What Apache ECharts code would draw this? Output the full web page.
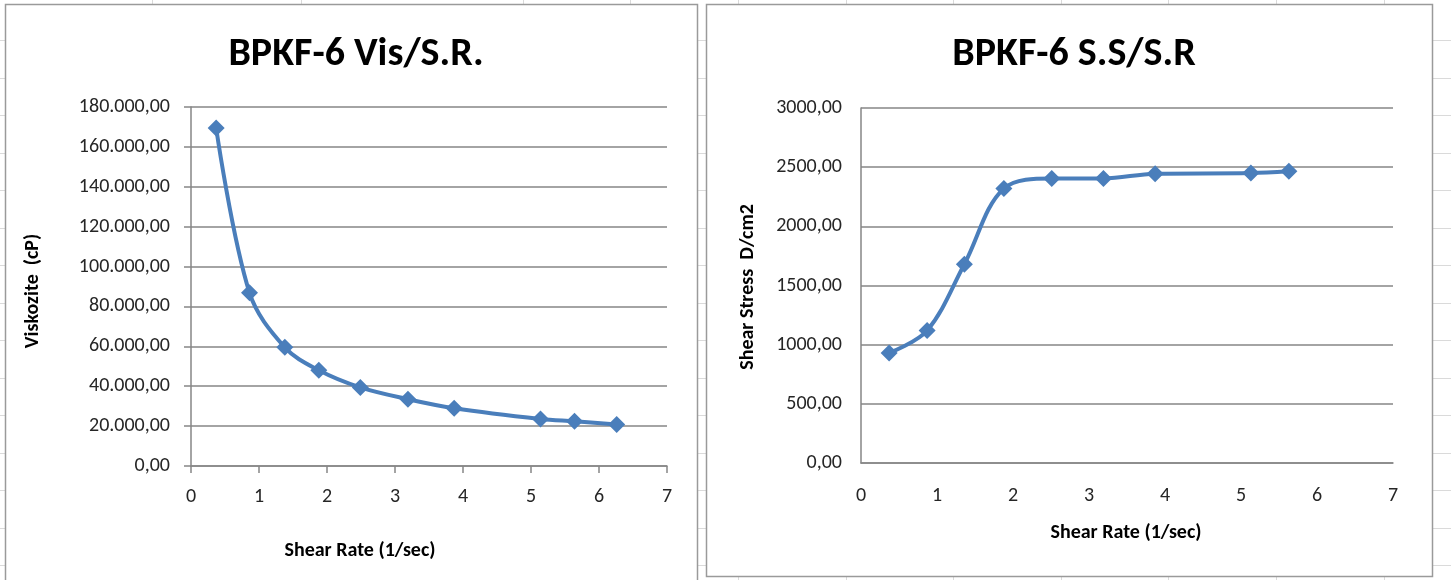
<!DOCTYPE html>
<html>
<head>
<meta charset="utf-8">
<script src="https://cdn.jsdelivr.net/npm/echarts@6/dist/echarts.min.js"></script>
<style>
  html, body { margin: 0; padding: 0; background: #ffffff; }
  #chart { width: 1451px; height: 580px; }
</style>
</head>
<body>
<div id="chart"></div>
<script>
// Shear rate (1/sec) readings
const shearRate = [0.37, 0.86, 1.38, 1.88, 2.49, 3.19, 3.87, 5.14, 5.64, 6.26];
// Viscosity (cP) at each shear rate
const viscosity = [169500, 86900, 59500, 48000, 39400, 33500, 29000, 23600, 22400, 20800];
// Shear stress (D/cm2) at the first nine shear rates
const shearRateSS = [0.37, 0.87, 1.36, 1.88, 2.51, 3.19, 3.87, 5.13, 5.63];
const shearStress = [930, 1120, 1680, 2320, 2405, 2405, 2445, 2450, 2465];

const titles = ['BPKF-6 Vis/S.R.', 'BPKF-6 S.S/S.R'];
const xAxisName = 'Shear Rate (1/sec)';
const yAxisNames = ['Viskozite  (cP)', 'Shear Stress  D/cm2'];

const FONT = "Carlito, 'Liberation Sans Narrow', Lato, sans-serif";
const LINE_BLUE = '#4a7ebb';
const AXIS_GREY = '#868686';

// 180000 -> "180.000,00"
function fmtDotted(v) {
  const parts = v.toFixed(2).split('.');
  return parts[0].replace(/\B(?=(\d{3})+(?!\d))/g, '.') + ',' + parts[1];
}
// 3000 -> "3000,00"
function fmtPlain(v) {
  return v.toFixed(2).replace('.', ',');
}

function pairs(xs, ys) { return xs.map((x, i) => [x, ys[i]]); }

// Spreadsheet cell lines showing around the two chart panels
const sheetCols = [152, 301, 523, 630, 738, 846, 953, 1061, 1168, 1276, 1384];
const sheetRows = [];
for (let y = 40; y < 580; y += 37.5) sheetRows.push(Math.round(y) + 0.5);

const gfx = [];
sheetCols.forEach(x => gfx.push({ type: 'line', z: -2, silent: true,
  shape: { x1: x + 0.5, y1: 0, x2: x + 0.5, y2: 580 }, style: { stroke: '#dadada', lineWidth: 1 } }));
sheetRows.forEach(y => gfx.push({ type: 'line', z: -2, silent: true,
  shape: { x1: 0, y1: y, x2: 1451, y2: y }, style: { stroke: '#dadada', lineWidth: 1 } }));
// chart panels
gfx.push({ type: 'rect', z: -1, silent: true, shape: { x: 5.5, y: 4.5, width: 692, height: 590 },
  style: { fill: '#ffffff', stroke: '#9a9a9a', lineWidth: 1.5 } });
gfx.push({ type: 'rect', z: -1, silent: true, shape: { x: 706.5, y: 4.5, width: 726, height: 572 },
  style: { fill: '#ffffff', stroke: '#9a9a9a', lineWidth: 1.5 } });

// axis titles
const nameFont = { fill: '#000000', fontFamily: FONT, fontSize: 20, fontWeight: 'bold',
  textAlign: 'center', textVerticalAlign: 'middle' };
gfx.push({ type: 'text', x: 360, y: 551, style: Object.assign({ text: xAxisName }, nameFont) });
gfx.push({ type: 'text', x: 1126, y: 533, style: Object.assign({ text: xAxisName }, nameFont) });
gfx.push({ type: 'text', x: 33, y: 291, rotation: Math.PI / 2,
  style: Object.assign({ text: yAxisNames[0] }, nameFont) });
gfx.push({ type: 'text', x: 748, y: 287, rotation: Math.PI / 2,
  style: Object.assign({ text: yAxisNames[1] }, nameFont) });

const labelStyle = { color: '#262626', fontFamily: FONT, fontSize: 20 };

const chart = echarts.init(document.getElementById('chart'), null, { renderer: 'canvas' });
chart.setOption({
  backgroundColor: '#ffffff',
  animation: false,
  graphic: gfx,
  title: [
    { text: titles[0], left: 351, top: 30, textAlign: 'center',
      textStyle: { fontFamily: FONT, fontSize: 40, fontWeight: 'bold', color: '#000' } },
    { text: titles[1], left: 1069, top: 30, textAlign: 'center',
      textStyle: { fontFamily: FONT, fontSize: 40, fontWeight: 'bold', color: '#000' } }
  ],
  grid: [
    { left: 191, top: 107, width: 476, height: 359 },
    { left: 861, top: 108, width: 532, height: 355 }
  ],
  xAxis: [
    { gridIndex: 0, type: 'value', min: 0, max: 7, interval: 1,
      axisLine: { show: true, lineStyle: { color: AXIS_GREY, width: 1.5 } },
      axisTick: { show: true, length: 7, lineStyle: { color: AXIS_GREY, width: 1.5 } },
      axisLabel: Object.assign({ margin: 21 }, labelStyle),
      splitLine: { show: false } },
    { gridIndex: 1, type: 'value', min: 0, max: 7, interval: 1,
      axisLine: { show: true, lineStyle: { color: AXIS_GREY, width: 1.5 } },
      axisTick: { show: false },
      axisLabel: Object.assign({ margin: 23 }, labelStyle),
      splitLine: { show: false } }
  ],
  yAxis: [
    { gridIndex: 0, type: 'value', min: 0, max: 180000, interval: 20000,
      axisLine: { show: true, lineStyle: { color: AXIS_GREY, width: 1.5 } },
      axisTick: { show: true, length: 7, lineStyle: { color: AXIS_GREY, width: 1.5 } },
      axisLabel: Object.assign({ margin: 21, formatter: fmtDotted }, labelStyle),
      splitLine: { show: true, lineStyle: { color: AXIS_GREY, width: 1.5 } } },
    { gridIndex: 1, type: 'value', min: 0, max: 3000, interval: 500,
      axisLine: { show: true, lineStyle: { color: AXIS_GREY, width: 1.5 } },
      axisTick: { show: false },
      axisLabel: Object.assign({ margin: 19, formatter: fmtPlain }, labelStyle),
      splitLine: { show: true, lineStyle: { color: AXIS_GREY, width: 1.5 } } }
  ],
  series: [
    { type: 'line', xAxisIndex: 0, yAxisIndex: 0, data: pairs(shearRate, viscosity),
      smooth: 0.35, symbol: 'diamond', symbolSize: 17,
      lineStyle: { color: LINE_BLUE, width: 4 }, itemStyle: { color: LINE_BLUE } },
    { type: 'line', xAxisIndex: 1, yAxisIndex: 1, data: pairs(shearRateSS, shearStress),
      smooth: 0.35, symbol: 'diamond', symbolSize: 17,
      lineStyle: { color: LINE_BLUE, width: 4 }, itemStyle: { color: LINE_BLUE } }
  ]
});
</script>
</body>
</html>
